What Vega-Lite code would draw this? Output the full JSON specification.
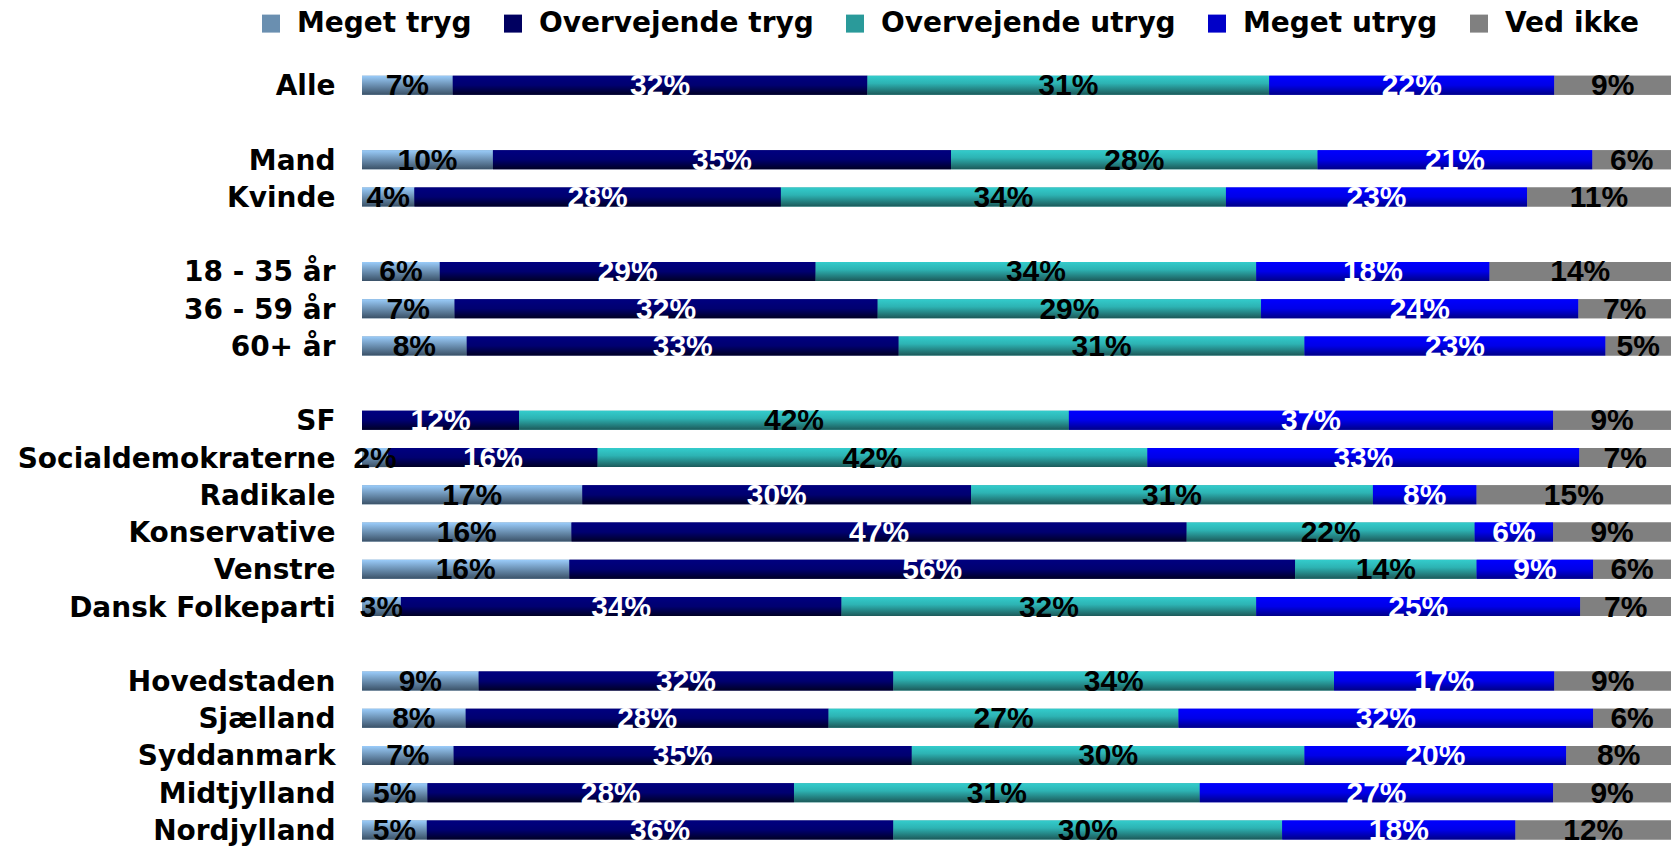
{
  "$schema": "https://vega.github.io/schema/vega-lite/v6.json",
  "width": 1309,
  "height": 782,
  "autosize": {"type": "none"},
  "padding": {"left": 362, "top": 66.6, "right": 0, "bottom": 0},
  "background": "white",
  "config": {"view": {"stroke": null}},
  "data": {"values": [
    {"g":"Alle","s":"Meget tryg","o":1,"v":0.07},{"g":"Alle","s":"Overvejende tryg","o":2,"v":0.32},{"g":"Alle","s":"Overvejende utryg","o":3,"v":0.31},{"g":"Alle","s":"Meget utryg","o":4,"v":0.22},{"g":"Alle","s":"Ved ikke","o":5,"v":0.09},
    {"g":"Mand","s":"Meget tryg","o":1,"v":0.10},{"g":"Mand","s":"Overvejende tryg","o":2,"v":0.35},{"g":"Mand","s":"Overvejende utryg","o":3,"v":0.28},{"g":"Mand","s":"Meget utryg","o":4,"v":0.21},{"g":"Mand","s":"Ved ikke","o":5,"v":0.06},
    {"g":"Kvinde","s":"Meget tryg","o":1,"v":0.04},{"g":"Kvinde","s":"Overvejende tryg","o":2,"v":0.28},{"g":"Kvinde","s":"Overvejende utryg","o":3,"v":0.34},{"g":"Kvinde","s":"Meget utryg","o":4,"v":0.23},{"g":"Kvinde","s":"Ved ikke","o":5,"v":0.11},
    {"g":"18 - 35 år","s":"Meget tryg","o":1,"v":0.06},{"g":"18 - 35 år","s":"Overvejende tryg","o":2,"v":0.29},{"g":"18 - 35 år","s":"Overvejende utryg","o":3,"v":0.34},{"g":"18 - 35 år","s":"Meget utryg","o":4,"v":0.18},{"g":"18 - 35 år","s":"Ved ikke","o":5,"v":0.14},
    {"g":"36 - 59 år","s":"Meget tryg","o":1,"v":0.07},{"g":"36 - 59 år","s":"Overvejende tryg","o":2,"v":0.32},{"g":"36 - 59 år","s":"Overvejende utryg","o":3,"v":0.29},{"g":"36 - 59 år","s":"Meget utryg","o":4,"v":0.24},{"g":"36 - 59 år","s":"Ved ikke","o":5,"v":0.07},
    {"g":"60+ år","s":"Meget tryg","o":1,"v":0.08},{"g":"60+ år","s":"Overvejende tryg","o":2,"v":0.33},{"g":"60+ år","s":"Overvejende utryg","o":3,"v":0.31},{"g":"60+ år","s":"Meget utryg","o":4,"v":0.23},{"g":"60+ år","s":"Ved ikke","o":5,"v":0.05},
    {"g":"SF","s":"Overvejende tryg","o":2,"v":0.12},{"g":"SF","s":"Overvejende utryg","o":3,"v":0.42},{"g":"SF","s":"Meget utryg","o":4,"v":0.37},{"g":"SF","s":"Ved ikke","o":5,"v":0.09},
    {"g":"Socialdemokraterne","s":"Meget tryg","o":1,"v":0.02},{"g":"Socialdemokraterne","s":"Overvejende tryg","o":2,"v":0.16},{"g":"Socialdemokraterne","s":"Overvejende utryg","o":3,"v":0.42},{"g":"Socialdemokraterne","s":"Meget utryg","o":4,"v":0.33},{"g":"Socialdemokraterne","s":"Ved ikke","o":5,"v":0.07},
    {"g":"Radikale","s":"Meget tryg","o":1,"v":0.17},{"g":"Radikale","s":"Overvejende tryg","o":2,"v":0.30},{"g":"Radikale","s":"Overvejende utryg","o":3,"v":0.31},{"g":"Radikale","s":"Meget utryg","o":4,"v":0.08},{"g":"Radikale","s":"Ved ikke","o":5,"v":0.15},
    {"g":"Konservative","s":"Meget tryg","o":1,"v":0.16},{"g":"Konservative","s":"Overvejende tryg","o":2,"v":0.47},{"g":"Konservative","s":"Overvejende utryg","o":3,"v":0.22},{"g":"Konservative","s":"Meget utryg","o":4,"v":0.06},{"g":"Konservative","s":"Ved ikke","o":5,"v":0.09},
    {"g":"Venstre","s":"Meget tryg","o":1,"v":0.16},{"g":"Venstre","s":"Overvejende tryg","o":2,"v":0.56},{"g":"Venstre","s":"Overvejende utryg","o":3,"v":0.14},{"g":"Venstre","s":"Meget utryg","o":4,"v":0.09},{"g":"Venstre","s":"Ved ikke","o":5,"v":0.06},
    {"g":"Dansk Folkeparti","s":"Meget tryg","o":1,"v":0.03},{"g":"Dansk Folkeparti","s":"Overvejende tryg","o":2,"v":0.34},{"g":"Dansk Folkeparti","s":"Overvejende utryg","o":3,"v":0.32},{"g":"Dansk Folkeparti","s":"Meget utryg","o":4,"v":0.25},{"g":"Dansk Folkeparti","s":"Ved ikke","o":5,"v":0.07},
    {"g":"Hovedstaden","s":"Meget tryg","o":1,"v":0.09},{"g":"Hovedstaden","s":"Overvejende tryg","o":2,"v":0.32},{"g":"Hovedstaden","s":"Overvejende utryg","o":3,"v":0.34},{"g":"Hovedstaden","s":"Meget utryg","o":4,"v":0.17},{"g":"Hovedstaden","s":"Ved ikke","o":5,"v":0.09},
    {"g":"Sjælland","s":"Meget tryg","o":1,"v":0.08},{"g":"Sjælland","s":"Overvejende tryg","o":2,"v":0.28},{"g":"Sjælland","s":"Overvejende utryg","o":3,"v":0.27},{"g":"Sjælland","s":"Meget utryg","o":4,"v":0.32},{"g":"Sjælland","s":"Ved ikke","o":5,"v":0.06},
    {"g":"Syddanmark","s":"Meget tryg","o":1,"v":0.07},{"g":"Syddanmark","s":"Overvejende tryg","o":2,"v":0.35},{"g":"Syddanmark","s":"Overvejende utryg","o":3,"v":0.30},{"g":"Syddanmark","s":"Meget utryg","o":4,"v":0.20},{"g":"Syddanmark","s":"Ved ikke","o":5,"v":0.08},
    {"g":"Midtjylland","s":"Meget tryg","o":1,"v":0.05},{"g":"Midtjylland","s":"Overvejende tryg","o":2,"v":0.28},{"g":"Midtjylland","s":"Overvejende utryg","o":3,"v":0.31},{"g":"Midtjylland","s":"Meget utryg","o":4,"v":0.27},{"g":"Midtjylland","s":"Ved ikke","o":5,"v":0.09},
    {"g":"Nordjylland","s":"Meget tryg","o":1,"v":0.05},{"g":"Nordjylland","s":"Overvejende tryg","o":2,"v":0.36},{"g":"Nordjylland","s":"Overvejende utryg","o":3,"v":0.30},{"g":"Nordjylland","s":"Meget utryg","o":4,"v":0.18},{"g":"Nordjylland","s":"Ved ikke","o":5,"v":0.12}
  ]},
  "encoding": {
    "y": {
      "field": "g", "type": "nominal",
      "scale": {
        "domain": ["Alle"," ","Mand","Kvinde","  ","18 - 35 år","36 - 59 år","60+ år","   ","SF","Socialdemokraterne","Radikale","Konservative","Venstre","Dansk Folkeparti","    ","Hovedstaden","Sjælland","Syddanmark","Midtjylland","Nordjylland"],
        "paddingInner": 0.49, "paddingOuter": 0.245
      },
      "axis": {"title": null, "domain": false, "ticks": false, "labelFont": "DejaVu Sans", "labelFontWeight": "bold", "labelFontSize": 28, "labelColor": "black", "labelPadding": 27, "labelLimit": 400, "labelBaseline": "alphabetic", "labelOffset": 10}
    },
    "x": {"field": "v", "type": "quantitative", "stack": "normalize", "axis": null, "scale": {"domain": [0, 1], "nice": false}},
    "order": {"field": "o", "type": "quantitative"}
  },
  "layer": [
    {
      "mark": {"type": "bar"},
      "encoding": {
        "color": {
          "field": "s", "type": "nominal",
          "scale": {
            "domain": ["Meget tryg","Overvejende tryg","Overvejende utryg","Meget utryg","Ved ikke"],
            "range": ["#6A8FB0","#000060","#2A9A9A","#0000C8","#808080"]
          },
          "legend": {
            "orient": "none", "legendX": -105, "legendY": -57, "direction": "horizontal", "columns": 5,
            "title": null, "symbolType": "square", "symbolSize": 324, "symbolStrokeWidth": 0,
            "labelFont": "DejaVu Sans", "labelFontWeight": "bold", "labelFontSize": 28, "labelColor": "black",
            "labelOffset": 12, "columnPadding": 27, "labelLimit": 500, "padding": 0,
            "symbolOpacity": 1,
            "encode": {"symbols": {"update": {"fill": {"signal": "datum.value === 'Meget tryg' ? {gradient: 'linear', x1: 0, y1: 0, x2: 0, y2: 1, stops: [{offset: 0, color: '#9ACCFA'}, {offset: 1, color: '#3B5268'}]} : datum.value === 'Overvejende tryg' ? {gradient: 'linear', x1: 0, y1: 0, x2: 0, y2: 1, stops: [{offset: 0, color: '#000080'}, {offset: 0.5, color: '#000070'}, {offset: 1, color: '#000025'}]} : datum.value === 'Overvejende utryg' ? {gradient: 'linear', x1: 0, y1: 0, x2: 0, y2: 1, stops: [{offset: 0, color: '#33CCCC'}, {offset: 0.4, color: '#2DB3B3'}, {offset: 1, color: '#1C5A5A'}]} : datum.value === 'Meget utryg' ? {gradient: 'linear', x1: 0, y1: 0, x2: 0, y2: 1, stops: [{offset: 0, color: '#0000FF'}, {offset: 0.5, color: '#0000E8'}, {offset: 1, color: '#000088'}]} : '#808080'"}}}}
          }
        }
      }
    },
    {
      "mark": {"type": "bar"},
      "encoding": {
        "detail": {"field": "s", "type": "nominal"},
        "color": {
          "condition": [
            {"test": "datum.s === 'Meget tryg'", "value": {"gradient": "linear", "x1": 0, "y1": 0, "x2": 0, "y2": 1, "stops": [{"offset": 0, "color": "#9ACCFA"}, {"offset": 1, "color": "#3B5268"}]}},
            {"test": "datum.s === 'Overvejende tryg'", "value": {"gradient": "linear", "x1": 0, "y1": 0, "x2": 0, "y2": 1, "stops": [{"offset": 0, "color": "#000080"}, {"offset": 0.5, "color": "#000070"}, {"offset": 1, "color": "#000025"}]}},
            {"test": "datum.s === 'Overvejende utryg'", "value": {"gradient": "linear", "x1": 0, "y1": 0, "x2": 0, "y2": 1, "stops": [{"offset": 0, "color": "#33CCCC"}, {"offset": 0.4, "color": "#2DB3B3"}, {"offset": 1, "color": "#1C5A5A"}]}},
            {"test": "datum.s === 'Meget utryg'", "value": {"gradient": "linear", "x1": 0, "y1": 0, "x2": 0, "y2": 1, "stops": [{"offset": 0, "color": "#0000FF"}, {"offset": 0.5, "color": "#0000E8"}, {"offset": 1, "color": "#000088"}]}}
          ],
          "value": "#808080"
        }
      }
    },
    {
      "mark": {"type": "text", "font": "Liberation Sans", "fontWeight": "bold", "fontSize": 30, "baseline": "alphabetic", "align": "center", "dy": 10},
      "encoding": {
        "x": {"field": "v", "type": "quantitative", "stack": "normalize", "bandPosition": 0.5},
        "detail": {"field": "s", "type": "nominal"},
        "text": {"field": "v", "type": "quantitative", "format": ".0%"},
        "color": {"condition": {"test": "datum.s === 'Overvejende tryg' || datum.s === 'Meget utryg'", "value": "white"}, "value": "black"}
      }
    }
  ]
}
